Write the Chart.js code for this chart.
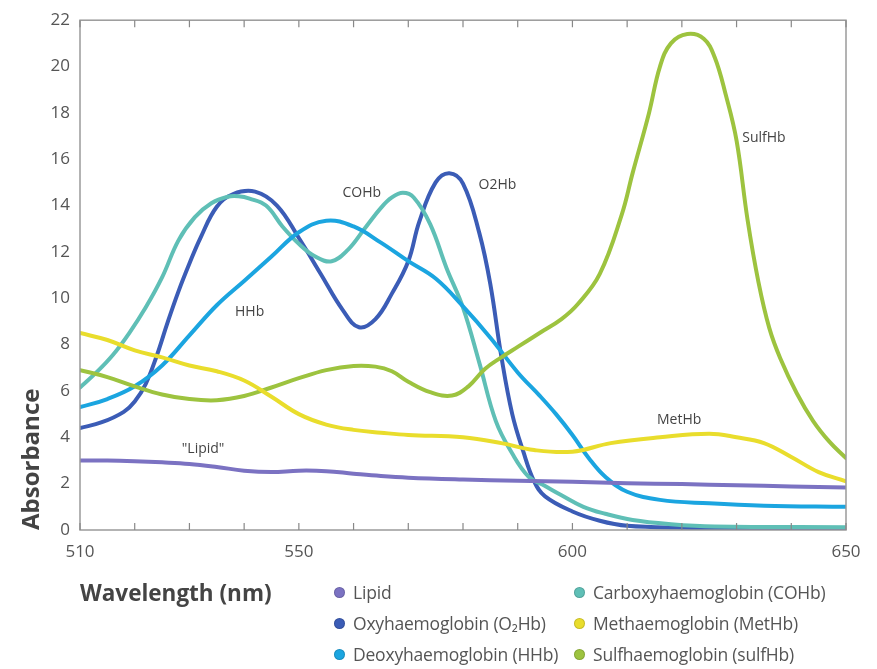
<!DOCTYPE html>
<html><head><meta charset="utf-8">
<script src="https://cdn.jsdelivr.net/npm/chart.js@4.4.1/dist/chart.umd.min.js"></script>
<style>
html,body{margin:0;padding:0;background:#fff;}
#wrap{position:relative;width:877px;height:669px;overflow:hidden;}
#legend{position:absolute;left:334px;top:581px;display:grid;grid-template-columns:240px 300px;row-gap:9px;font-family:'Open Sans','Noto Sans',sans-serif;font-size:17.5px;letter-spacing:-0.2px;color:#555;}
.item{display:flex;align-items:center;height:22px;white-space:nowrap;}
.dot{width:11px;height:11px;border-radius:50%;margin-right:8px;box-shadow:inset 0 0 0 1px rgba(0,0,0,0.15);}
</style></head><body>
<div id="wrap"><canvas id="c" width="877" height="669"></canvas><div id="legend"></div></div>
<script>
// ---- data ----
const lipidX = [510,515,520,525,530,535,540,545,550,555,560,565,570,580,590,600,610,620,630,640,650];
const lipidY = [3.0,3.0,2.97,2.92,2.85,2.72,2.56,2.5,2.56,2.54,2.43,2.33,2.26,2.18,2.12,2.08,2.02,1.98,1.93,1.88,1.83];

const o2hbX = [510,514,518,520,522,524,526,528,530,532,535,538,542,546,550,554,558,561,564,567,570,572,575,577.5,580,583,585,587,589,591,593,595,600,605,610,620,635,650];
const o2hbY = [4.4,4.65,5.1,5.55,6.3,7.5,8.95,10.3,11.5,12.6,13.95,14.5,14.6,14.0,12.6,11.05,9.5,8.75,9.1,10.2,11.6,13.3,15.0,15.4,14.95,12.8,10.6,7.5,5.0,3.4,2.1,1.45,0.8,0.4,0.18,0.1,0.07,0.05];

const hhbX = [510,515,520,525,530,535,540,545,550,555,560,565,570,575,580,585,590,594,597,600,603,606,610,616,625,635,650];
const hhbY = [5.3,5.65,6.2,7.1,8.4,9.7,10.75,11.8,12.85,13.35,13.1,12.4,11.6,10.85,9.65,8.3,6.8,5.8,5.0,4.1,3.1,2.3,1.65,1.3,1.15,1.05,1.0];

const cohbX = [510,513,516,519,522,525,528,531,534,537,539,541,544,547,550,553,556,559,562,565,567,569,571,574,577,580,583,586,589,592,595,598,602,606,611,618,626,650];
const cohbY = [6.15,6.8,7.55,8.5,9.6,10.9,12.5,13.5,14.1,14.38,14.4,14.3,14.0,13.1,12.35,11.8,11.6,12.1,13.0,13.9,14.35,14.55,14.35,13.2,11.3,9.6,7.2,4.7,3.3,2.3,1.9,1.5,1.0,0.7,0.43,0.25,0.15,0.12];

const methbX = [510,515,520,525,530,535,540,545,550,555,560,565,570,580,587,593,600,607,616,625,630,635,640,645,650];
const methbY = [8.5,8.2,7.75,7.45,7.1,6.85,6.45,5.75,5.0,4.55,4.32,4.2,4.1,4.0,3.75,3.45,3.38,3.75,4.0,4.15,4.0,3.75,3.15,2.5,2.1];

const sulfhbX = [510,515,520,525,530,535,540,545,550,555,560,564,567,570,574,578,581,584,587,590,594,598,601,605,609,611,614,616,618,621,624,626,628,630,632,634,636,638,641,644,647,650];
const sulfhbY = [6.9,6.6,6.2,5.85,5.65,5.6,5.78,6.15,6.55,6.9,7.08,7.05,6.85,6.4,5.95,5.8,6.2,6.95,7.45,7.9,8.5,9.1,9.75,11.05,13.6,15.4,18.0,20.0,21.0,21.4,21.2,20.4,18.8,16.8,13.4,10.7,8.7,7.4,5.9,4.7,3.8,3.1];

const yTicks = [0,2,4,6,8,10,12,14,16,18,20,22];
const xTickLabels = [510,550,600,650];

const seriesNames = ['Lipid','Oxyhaemoglobin (O\u2082Hb)','Deoxyhaemoglobin (HHb)','Carboxyhaemoglobin (COHb)','Methaemoglobin (MetHb)','Sulfhaemoglobin (sulfHb)'];
const seriesColors = ['#7b72c2','#3b5cb6','#1ba5e0','#5fbfb6','#e9dd2c','#9dc33f'];
const legendOrder = [0,3,1,4,2,5];

const noteText = ['"Lipid"','HHb','COHb','O2Hb','SulfHb','MetHb'];
const noteX = [532.5,541,561.5,586.3,635,619.5];
const noteY = [3.5,9.4,14.55,14.9,16.9,4.73];

// ---- build ----
function pts(xs, ys){ return xs.map((x,i)=>({x:x,y:ys[i]})); }
const seriesData = [pts(lipidX,lipidY),pts(o2hbX,o2hbY),pts(hhbX,hhbY),pts(cohbX,cohbY),pts(methbX,methbY),pts(sulfhbX,sulfhbY)];
const drawOrder = [0,4,5,2,3,1];
const datasets = drawOrder.map(i=>({
  label: seriesNames[i], data: seriesData[i], borderColor: seriesColors[i], backgroundColor: seriesColors[i],
  borderWidth: 4, pointRadius: 0, tension: 0.4, fill: false, borderCapStyle:'round', borderJoinStyle:'round'
}));

const tickFont = {family:"'Open Sans','Noto Sans',sans-serif", size:17};

const frame = {
  id:'frame',
  afterDatasetsDraw(chart){
    const {ctx, chartArea:a, scales} = chart;
    ctx.save();
    ctx.strokeStyle = '#9a9a9a'; ctx.lineWidth = 1.5;
    ctx.strokeRect(a.left, a.top, a.right-a.left, a.bottom-a.top);
    ctx.lineWidth = 1.2; ctx.strokeStyle = '#888';
    scales.x.ticks.forEach(t=>{
      const px = scales.x.getPixelForValue(t.value);
      ctx.beginPath();
      ctx.moveTo(px, a.bottom); ctx.lineTo(px, a.bottom-7);
      ctx.moveTo(px, a.top); ctx.lineTo(px, a.top+7);
      ctx.stroke();
    });
    ctx.fillStyle = '#444';
    ctx.font = "14px 'Open Sans','Noto Sans',sans-serif";
    ctx.textAlign = 'center'; ctx.textBaseline = 'middle';
    noteText.forEach((t,i)=>{
      ctx.fillText(t, scales.x.getPixelForValue(noteX[i]), scales.y.getPixelForValue(noteY[i]));
    });
    ctx.restore();
  }
};

new Chart(document.getElementById('c'), {
  type:'line',
  data:{datasets},
  options:{
    responsive:false, animation:false, devicePixelRatio:1,
    layout:{padding:{top:18,right:31,left:0,bottom:0}},
    plugins:{legend:{display:false}, tooltip:{enabled:false}},
    scales:{
      x:{type:'linear', min:510, max:650,
        afterFit(s){ s.height = 139; },
        grid:{display:false, drawTicks:false},
        border:{display:false},
        ticks:{stepSize:10, autoSkip:false, maxRotation:0, padding:12, color:'#555', font:tickFont,
          callback:(v)=> xTickLabels.includes(v) ? String(v) : ''},
        title:{display:true, text:'Wavelength (nm)', align:'start', color:'#444',
          font:{family:"'Open Sans','Noto Sans',sans-serif", size:22.5, weight:'bold'}, padding:{top:0,bottom:61}}
      },
      y:{min:0, max:22,
        afterFit(s){ s.width = 80; },
        afterBuildTicks(s){ s.ticks = yTicks.map(v=>({value:v})); },
        grid:{display:false, drawTicks:false},
        border:{display:false},
        ticks:{padding:10, color:'#555', font:tickFont},
        title:{display:true, text:'Absorbance', align:'start', color:'#444',
          font:{family:"'Open Sans','Noto Sans',sans-serif", size:24, weight:'bold'}, padding:{top:18,bottom:0}}
      }
    }
  },
  plugins:[frame]
});

const leg = document.getElementById('legend');
legendOrder.forEach(i=>{
  const d = document.createElement('div'); d.className='item';
  const dot = document.createElement('span'); dot.className='dot'; dot.style.background = seriesColors[i];
  const t = document.createElement('span'); t.textContent = seriesNames[i];
  d.appendChild(dot); d.appendChild(t); leg.appendChild(d);
});
</script>
</body></html>
